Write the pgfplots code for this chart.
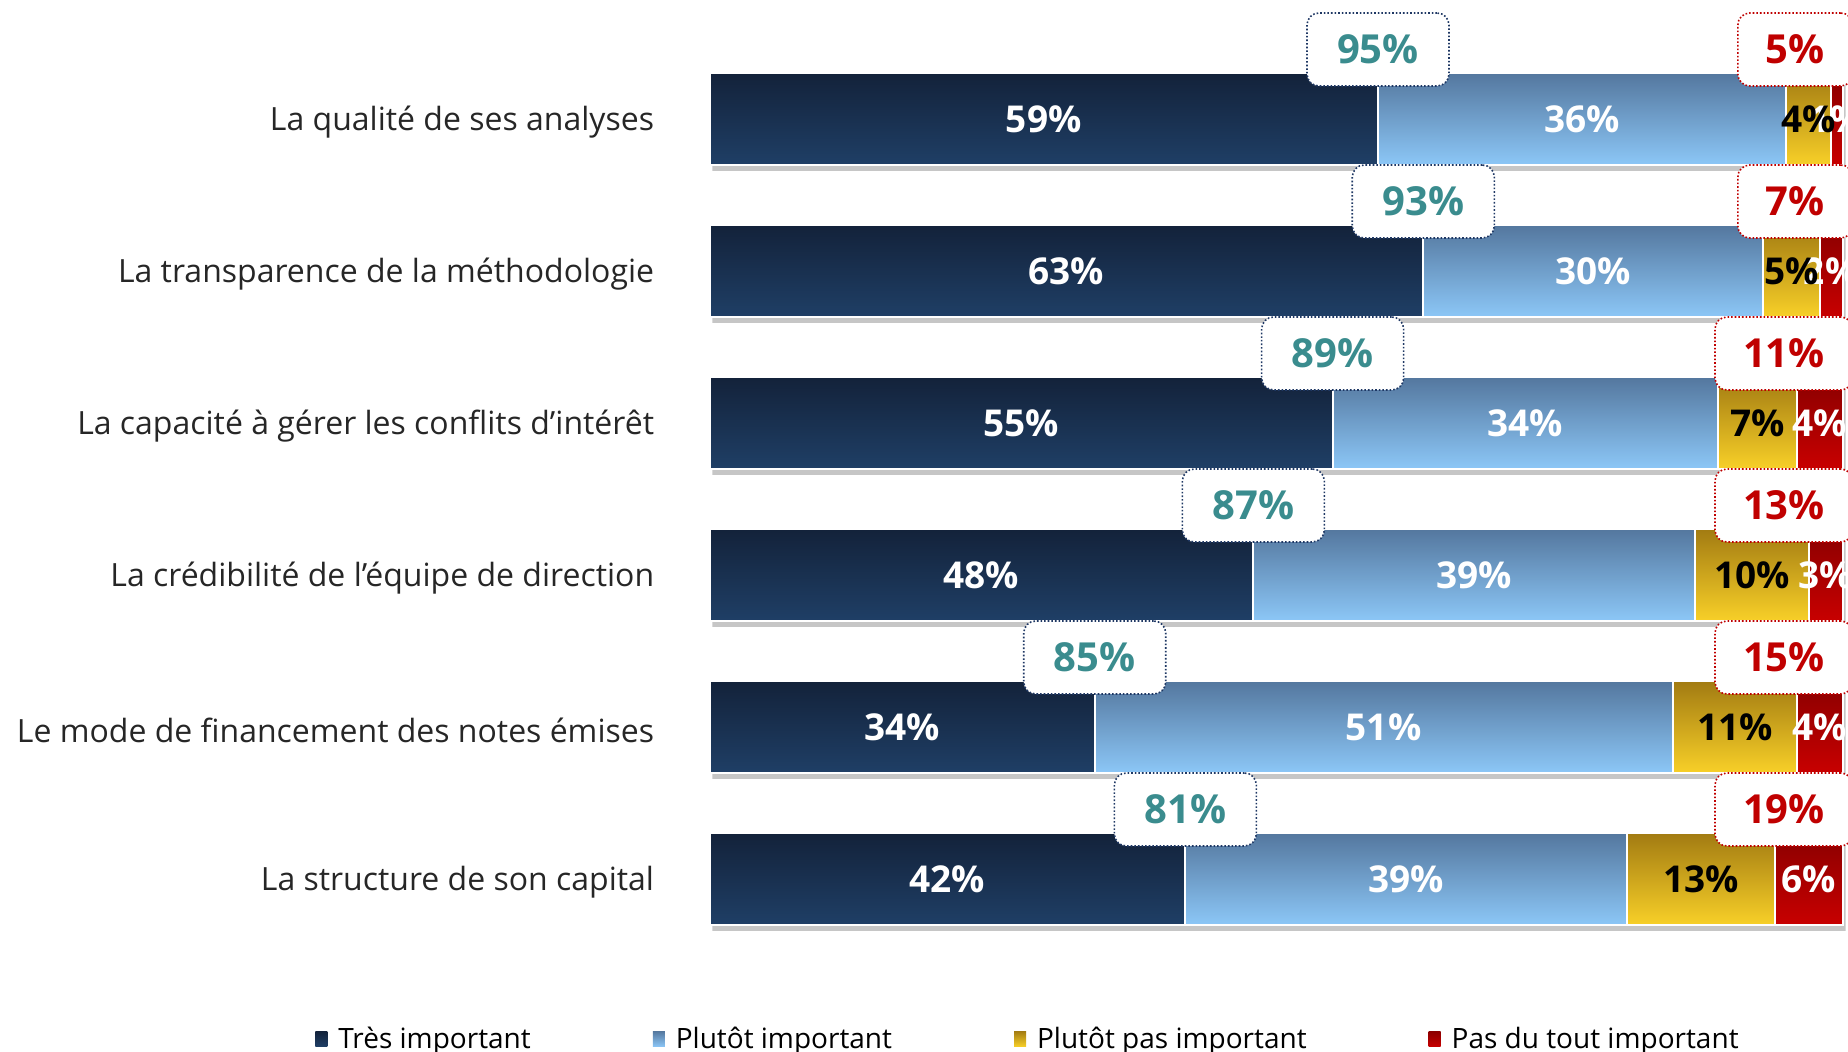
\documentclass[border=0pt]{standalone}
\usepackage{pgfplots}
\usepackage{pgfplotstable}
\pgfplotsset{compat=1.18}
\usepackage{fontspec}
\setmainfont{Open Sans}
\definecolor{atop}{HTML}{13223A}
\definecolor{abot}{HTML}{1F3F66}
\definecolor{btop}{HTML}{54779E}
\definecolor{bbot}{HTML}{8CC7F7}
\definecolor{ctop}{HTML}{A27B12}
\definecolor{cbot}{HTML}{F8D028}
\definecolor{dtop}{HTML}{8A0000}
\definecolor{dbot}{HTML}{C80000}
\definecolor{teal}{HTML}{3A8C8E}
\definecolor{navy}{HTML}{1F3864}
\definecolor{redc}{HTML}{C00000}
\pgfplotstableread{
y tres plutot pas nul
5 59 36 4 1
4 63 30 5 2
3 55 34 7 4
2 48 39 10 3
1 34 51 11 4
0 42 39 13 6
}\data
\tikzset{
  tealbox/.style={draw=navy, densely dotted, line width=0.8pt, fill=white, rounded corners=6pt,
    minimum width=71pt, minimum height=36.5pt, inner sep=0pt, text=teal, yshift=34.75pt,
    font=\fontsize{20}{22}\selectfont\bfseries},
  redbox/.style={draw=redc, densely dotted, line width=0.8pt, fill=white, rounded corners=6pt,
    minimum height=36.5pt, inner xsep=14pt, inner ysep=0pt, text=redc, anchor=east,
    xshift=5.5pt, yshift=34.75pt,
    font=\fontsize{20}{22}\selectfont\bfseries},
}
\pgfplotsset{
  base/.style={
    at={(354.75pt,-21.5pt)}, anchor=north west,
    scale only axis, width=566.5pt, height=456pt,
    xmin=0, xmax=100, ymin=-0.5, ymax=5.5,
    axis line style={draw=none}, major tick length=0pt,
    xtick=\empty, ytick={0,...,5},
    clip=false, bar width=46pt,
  },
}
\begin{document}
\begin{tikzpicture}
% shadows and category labels
\begin{axis}[base, xbar,
  yticklabels={La structure de son capital, Le mode de financement des notes émises, La crédibilité de l’équipe de direction, La capacité à gérer les conflits d’intérêt, La transparence de la méthodologie, La qualité de ses analyses},
  yticklabel style={font=\fontsize{16}{19}\selectfont, text=black!85, anchor=east, inner sep=0pt, xshift=-27.5pt, yshift=-1.5pt}]
  \addplot[draw=none, fill=gray!45, bar shift=-3pt, xshift=1.5pt] table[x expr=100, y=y] {\data};
\end{axis}
% bars: one thin axis per category so that each bar carries its own shading
\pgfplotsinvokeforeach{0,...,5}{
\begin{axis}[xbar stacked,
  at={(354.75pt,{-59.5pt-(5-#1)*76pt})}, anchor=west,
  scale only axis, width=566.5pt, height=46pt,
  xmin=0, xmax=100, ymin={#1-0.5}, ymax={#1+0.5},
  hide axis, clip=false, bar width=46pt,
  unbounded coords=discard,
  every axis plot/.append style={draw=white, line width=1pt},
  nodes near coords={\pgfmathprintnumber[assume math mode=true]{\pgfplotspointmeta}\%},
  every node near coord/.append style={font=\fontsize{18.5}{20}\selectfont\bfseries, anchor=center},
]
  \addplot[top color=atop, bottom color=abot, every node near coord/.append style={text=white}]
    table[x expr={\thisrow{y}==#1 ? \thisrow{tres} : nan}, y=y] {\data};
  \addplot[top color=btop, bottom color=bbot, every node near coord/.append style={text=white}]
    table[x expr={\thisrow{y}==#1 ? \thisrow{plutot} : nan}, y=y] {\data};
  \addplot[top color=ctop, bottom color=cbot, every node near coord/.append style={text=black}]
    table[x expr={\thisrow{y}==#1 ? \thisrow{pas} : nan}, y=y] {\data};
  \addplot[top color=dtop, bottom color=dbot, every node near coord/.append style={text=white}]
    table[x expr={\thisrow{y}==#1 ? \thisrow{nul} : nan}, y=y] {\data};
\end{axis}
}
% callouts and legend
\begin{axis}[base, ytick=\empty,
  legend columns=4,
  legend style={draw=none, fill=none, inner sep=0pt, at={(-0.3482,-0.092)}, anchor=west,
    font=\fontsize{14}{16}\selectfont,
    /tikz/every odd column/.append style={column sep=3.5pt},
    /tikz/every even column/.append style={column sep=59pt}},
  legend image code/.code={\path[#1, draw=none] (0pt,-3.9pt) rectangle (6pt,3.9pt);},
]
  \addlegendimage{top color=atop, bottom color=abot}
  \addlegendimage{top color=btop, bottom color=bbot}
  \addlegendimage{top color=ctop, bottom color=cbot}
  \addlegendimage{top color=dtop, bottom color=dbot}
  \legend{Très important, Plutôt important, Plutôt pas important, Pas du tout important}
  \node[tealbox] at (axis cs:59,5) {95\%};
  \node[tealbox] at (axis cs:63,4) {93\%};
  \node[tealbox] at (axis cs:55,3) {89\%};
  \node[tealbox] at (axis cs:48,2) {87\%};
  \node[tealbox] at (axis cs:34,1) {85\%};
  \node[tealbox] at (axis cs:42,0) {81\%};
  \node[redbox] at (axis cs:100,5) {5\%};
  \node[redbox] at (axis cs:100,4) {7\%};
  \node[redbox] at (axis cs:100,3) {11\%};
  \node[redbox] at (axis cs:100,2) {13\%};
  \node[redbox] at (axis cs:100,1) {15\%};
  \node[redbox] at (axis cs:100,0) {19\%};
\end{axis}
\pgfresetboundingbox
\useasboundingbox (0,0) rectangle (924pt,-526pt);
\end{tikzpicture}
\end{document}
